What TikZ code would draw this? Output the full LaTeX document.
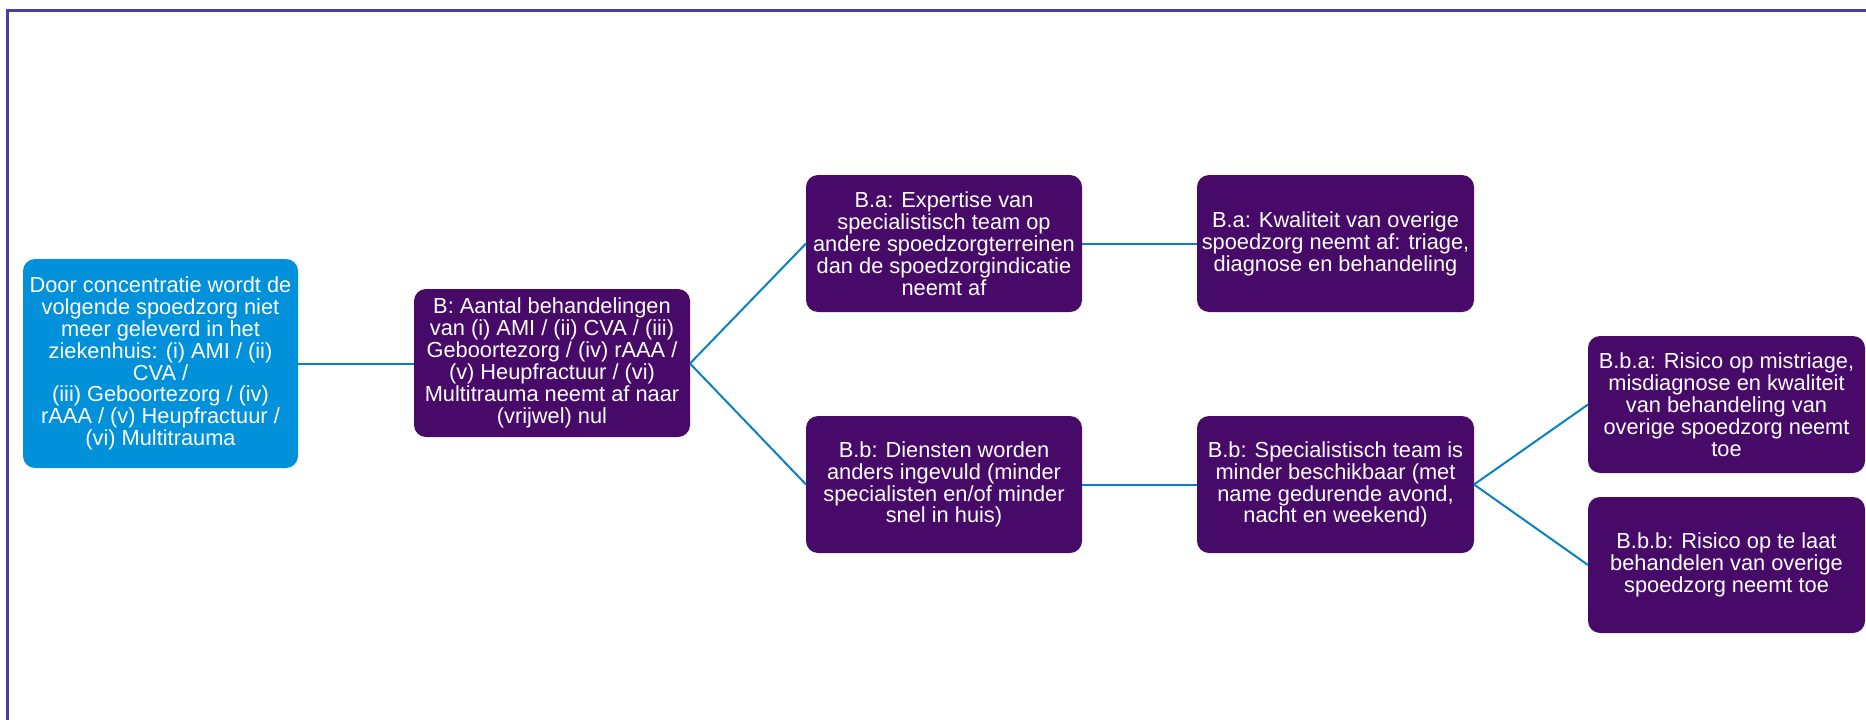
\documentclass[tikz,border=0pt]{standalone}
\usepackage{fontspec}
\setmainfont{Liberation Sans}
\definecolor{framecol}{HTML}{4A3F9F}
\definecolor{kblue}{HTML}{0091DA}
\definecolor{kpurple}{HTML}{470A68}
\definecolor{linkcol}{HTML}{0A80C4}
\tikzset{
  box/.style={rounded corners=12pt, text=white, align=center,
    font=\fontsize{21.8}{21.9}\selectfont, inner sep=0pt},
  bluebox/.style={box, fill=kblue},
  purplebox/.style={box, fill=kpurple},
  link/.style={draw=linkcol, line width=2pt},
}
\begin{document}
\begin{tikzpicture}[x=1pt, y=-1pt]
  \useasboundingbox (0,0) rectangle (1866,720);
  % outer frame, open to the right and bottom
  \draw[framecol, line width=2.2pt] (7.5,720) -- (7.5,10.5) -- (1866,10.5);

  % boxes (corner coordinates in picture units)
  \path[bluebox] (23,259) rectangle (298,468);
  \node[bluebox, fill=none] (a) at (160.5,363.5) {Door concentratie wordt de\\volgende spoedzorg niet\\meer geleverd in het\\ziekenhuis: (i) AMI / (ii)\\CVA /\\(iii) Geboortezorg / (iv)\\rAAA / (v) Heupfractuur /\\(vi) Multitrauma};
  \coordinate (aR) at (298,363.5);

  \path[purplebox] (414,289) rectangle (690,437);
  \node[purplebox, fill=none] (b) at (552,363) {B: Aantal behandelingen\\van (i) AMI / (ii) CVA / (iii)\\Geboortezorg / (iv) rAAA /\\(v) Heupfractuur / (vi)\\Multitrauma neemt af naar\\(vrijwel) nul};
  \coordinate (bL) at (414,363.5);
  \coordinate (bR) at (690,363.5);

  \path[purplebox] (806,175) rectangle (1082,312);
  \node[purplebox, fill=none] (ba) at (944,243.5) {B.a: Expertise van\\specialistisch team op\\andere spoedzorgterreinen\\dan de spoedzorgindicatie\\neemt af};
  \coordinate (baL) at (806,243.5);
  \coordinate (baR) at (1082,243.5);

  \path[purplebox] (1197,175) rectangle (1474,312);
  \node[purplebox, fill=none] (ba2) at (1335.5,243.5) {B.a: Kwaliteit van overige\\spoedzorg neemt af: triage,\\diagnose en behandeling};
  \coordinate (ba2L) at (1197,243.5);

  \path[purplebox] (806,416) rectangle (1082,553);
  \node[purplebox, fill=none] (bb) at (944,484.5) {B.b: Diensten worden\\anders ingevuld (minder\\specialisten en/of minder\\snel in huis)};
  \coordinate (bbL) at (806,484.5);
  \coordinate (bbR) at (1082,484.5);

  \path[purplebox] (1197,416) rectangle (1474,553);
  \node[purplebox, fill=none] (bb2) at (1335.5,484.5) {B.b: Specialistisch team is\\minder beschikbaar (met\\name gedurende avond,\\nacht en weekend)};
  \coordinate (bb2L) at (1197,484.5);
  \coordinate (bb2R) at (1474,484.5);

  \path[purplebox] (1588,336) rectangle (1865,473);
  \node[purplebox, fill=none] (bba) at (1726.5,404.5) {B.b.a: Risico op mistriage,\\misdiagnose en kwaliteit\\van behandeling van\\overige spoedzorg neemt\\toe};
  \coordinate (bbaL) at (1588,404.5);

  \path[purplebox] (1588,497) rectangle (1865,633);
  \node[purplebox, fill=none] (bbb) at (1726.5,565) {B.b.b: Risico op te laat\\behandelen van overige\\spoedzorg neemt toe};
  \coordinate (bbbL) at (1588,565);

  % connectors
  \draw[link] (aR) -- (bL);
  \draw[link] (bR) -- (baL);
  \draw[link] (bR) -- (bbL);
  \draw[link] (baR) -- (ba2L);
  \draw[link] (bbR) -- (bb2L);
  \draw[link] (bb2R) -- (bbaL);
  \draw[link] (bb2R) -- (bbbL);
\end{tikzpicture}
\end{document}
